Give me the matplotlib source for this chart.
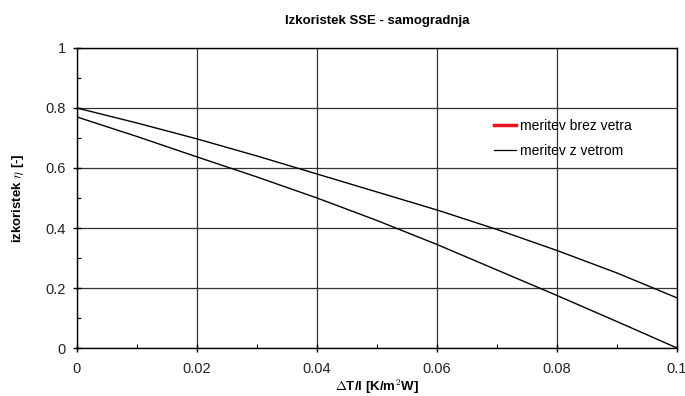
import matplotlib
matplotlib.use("Agg")
import matplotlib.pyplot as plt
from matplotlib.lines import Line2D
from matplotlib.ticker import MultipleLocator

plt.rcParams['font.family'] = ['Liberation Sans', 'DejaVu Sans']
plt.rcParams['mathtext.fontset'] = 'cm'

x = [0.0, 0.01, 0.02, 0.03, 0.04, 0.05, 0.06, 0.07, 0.08, 0.09, 0.1]
eta_upper = [0.80, 0.75, 0.697, 0.64, 0.58, 0.52, 0.46, 0.395, 0.325, 0.25, 0.167]
eta_lower = [0.77, 0.705, 0.637, 0.57, 0.50, 0.425, 0.345, 0.26, 0.175, 0.088, 0.0]
labels = ["meritev brez vetra", "meritev z vetrom"]

fig = plt.figure(figsize=(6.85, 3.96), dpi=100)
ax = fig.add_axes([0.1124, 0.1212, 0.876, 0.7576])

ax.plot(x, eta_upper, color='black', lw=1.0)
ax.plot(x, eta_lower, color='black', lw=1.0)

ax.set_xlim(0, 0.1)
ax.set_ylim(0, 1)
ax.xaxis.set_minor_locator(MultipleLocator(0.01))
ax.yaxis.set_minor_locator(MultipleLocator(0.1))
ax.set_xticks([0, 0.02, 0.04, 0.06, 0.08, 0.1])
ax.set_xticklabels(['0', '0.02', '0.04', '0.06', '0.08', '0.1'])
ax.set_yticks([0, 0.2, 0.4, 0.6, 0.8, 1.0])
ax.set_yticklabels(['0', '0.2', '0.4', '0.6', '0.8', '1'])
ax.tick_params(which='major', direction='inout', length=6, width=1, labelsize=10.5,
               colors='black', labelcolor='#222222')
ax.tick_params(axis='x', which='major', pad=7)
ax.tick_params(axis='y', which='major', pad=5)
ax.tick_params(which='minor', direction='in', length=3, width=0.8)
ax.grid(True, which='major', color='#333333', lw=0.9)
for s in ax.spines.values():
    s.set_linewidth(1.0)

ax.set_title("Izkoristek SSE - samogradnja", fontsize=9.5, fontweight='bold', pad=17)
ax.set_xlabel(r"$\Delta$T/I [K/m$^\mathbf{2}$W]", fontsize=9.5, fontweight='bold', labelpad=1)
ax.set_ylabel(r"izkoristek $\eta$ [-]", fontsize=9.5, fontweight='bold', labelpad=14)

handles = [Line2D([], [], color='#e8141c', lw=2.5), Line2D([], [], color='black', lw=0.9)]
ax.legend(handles, labels, loc='upper left', bbox_to_anchor=(0.685, 0.783), frameon=False,
          fontsize=10, handlelength=1.6, handletextpad=0.3, labelspacing=0.8, borderaxespad=0)

fig.savefig("out.png", dpi=100)
